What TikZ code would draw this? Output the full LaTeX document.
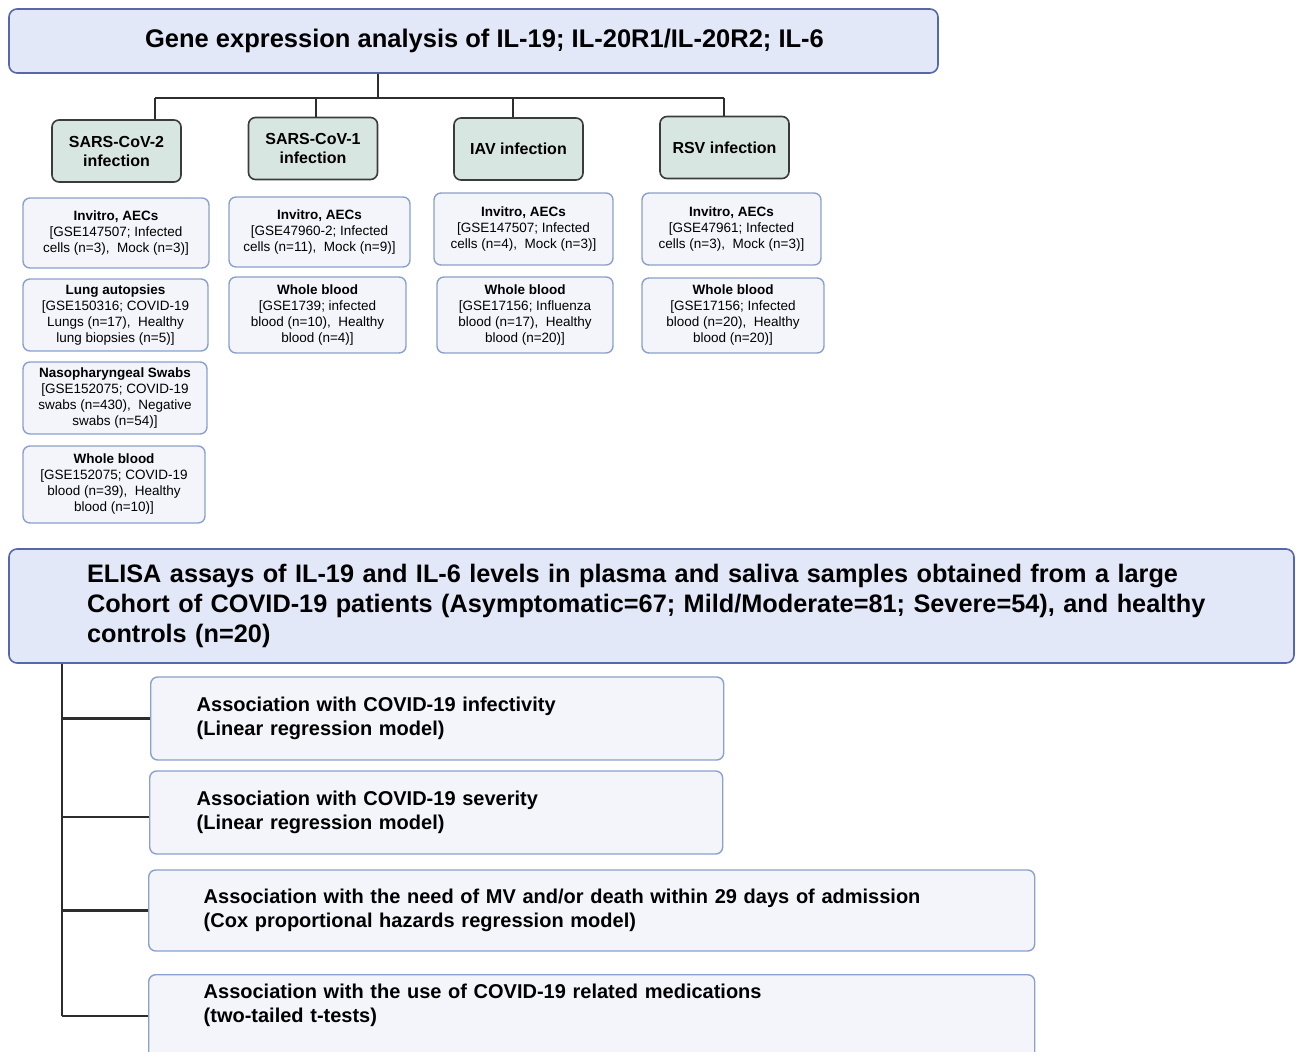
\documentclass[tikz,border=0pt]{standalone}
\usepackage{fontspec}
\setmainfont{Liberation Sans}
\definecolor{topfill}{RGB}{227,232,248}
\definecolor{topline}{RGB}{86,104,170}
\definecolor{hdrfill}{RGB}{216,230,226}
\definecolor{hdrline}{RGB}{58,60,60}
\definecolor{datfill}{RGB}{243,245,251}
\definecolor{datline}{RGB}{140,160,205}
\definecolor{linkcol}{RGB}{45,45,45}
\begin{document}
\begin{tikzpicture}[x=1pt,y=-1pt,
    topbox/.style={draw=topline,fill=topfill,rounded corners=8,line width=1.6,inner sep=0},
    hdrbox/.style={draw=hdrline,fill=hdrfill,rounded corners=7,line width=1.6,inner sep=0,
      align=center,minimum width=129,minimum height=62,font=\fontsize{16}{19}\selectfont\bfseries},
    datbox/.style={draw=datline,fill=datfill,rounded corners=7,line width=1.4,inner sep=0,
      align=center,font=\fontsize{13.5}{16}\selectfont},
    assoc/.style={draw=datline,fill=datfill,rounded corners=7,line width=1.4,inner ysep=0,
      align=left,font=\fontsize{20}{24.5}\selectfont\bfseries},
    link/.style={draw=linkcol,line width=2.6}]
  \useasboundingbox (0,0) rectangle (1296,1052);
  \clip (0,0) rectangle (1296,1052);
  % gene expression part
  \node[topbox,minimum width=929,minimum height=64,font=\fontsize{25.5}{30}\selectfont\bfseries]
    (gene) at (473.5,41) {\hspace*{22pt}Gene expression analysis of IL-19; IL-20R1/IL-20R2; IL-6};
  \node[hdrbox] (sc2) at (116.5,151) {SARS-CoV-2\\infection};
  \node[hdrbox] (sc1) at (313,148.5) {SARS-CoV-1\\infection};
  \node[hdrbox] (iav) at (518.5,149) {IAV infection};
  \node[hdrbox] (rsv) at (724.5,147.5) {RSV infection};
  \coordinate (split) at (378,98);
  \coordinate (j1) at (155,98);
  \coordinate (j2) at (316,98);
  \coordinate (j3) at (513,98);
  \coordinate (j4) at (724,98);
  \begin{scope}[link]
    \draw (split |- gene.south) -- (split);
    \draw (j1) -- (j4);
    \draw (j1) -- (j1 |- sc2.north);
    \draw (j2) -- (j2 |- sc1.north);
    \draw (j3) -- (j3 |- iav.north);
    \draw (j4) -- (j4 |- rsv.north);
  \end{scope}
  % data sets
  \node[datbox,minimum width=186,minimum height=70] (sc2a) at (116,233)
    {\textbf{Invitro, AECs}\\{[GSE147507; Infected}\\cells (n=3),\ \ Mock (n=3)]};
  \node[datbox,minimum width=185,minimum height=72] (sc2b) at (115.5,315)
    {\textbf{Lung autopsies}\\{[GSE150316; COVID-19}\\Lungs (n=17),\ \ Healthy\\lung biopsies (n=5)]};
  \node[datbox,minimum width=184,minimum height=72] (sc2c) at (115,398)
    {\textbf{Nasopharyngeal Swabs}\\{[GSE152075; COVID-19}\\swabs (n=430),\ \ Negative\\swabs (n=54)]};
  \node[datbox,minimum width=182,minimum height=77] (sc2d) at (114,484.5)
    {\textbf{Whole blood}\\{[GSE152075; COVID-19}\\blood (n=39),\ \ Healthy\\blood (n=10)]};
  \node[datbox,minimum width=181,minimum height=70] (sc1a) at (319.5,232)
    {\textbf{Invitro, AECs}\\{[GSE47960-2; Infected}\\cells (n=11),\ \ Mock (n=9)]};
  \node[datbox,minimum width=177,minimum height=76] (sc1b) at (317.5,315)
    {\textbf{Whole blood}\\{[GSE1739; infected}\\blood (n=10),\ \ Healthy\\blood (n=4)]};
  \node[datbox,minimum width=179,minimum height=72] (iava) at (523.5,229)
    {\textbf{Invitro, AECs}\\{[GSE147507; Infected}\\cells (n=4),\ \ Mock (n=3)]};
  \node[datbox,minimum width=176,minimum height=76] (iavb) at (525,315)
    {\textbf{Whole blood}\\{[GSE17156; Influenza}\\blood (n=17),\ \ Healthy\\blood (n=20)]};
  \node[datbox,minimum width=179,minimum height=72] (rsva) at (731.5,229)
    {\textbf{Invitro, AECs}\\{[GSE47961; Infected}\\cells (n=3),\ \ Mock (n=3)]};
  \node[datbox,minimum width=182,minimum height=75] (rsvb) at (733,315.5)
    {\textbf{Whole blood}\\{[GSE17156; Infected}\\blood (n=20),\ \ Healthy\\blood (n=20)]};
  % ELISA part
  \node[topbox,minimum height=114,inner xsep=78,text width=1129,align=left,
    font=\fontsize{25.3}{30}\selectfont\bfseries] (elisa) at (651.5,606)
    {ELISA assays of IL-19 and IL-6 levels in plasma and saliva samples obtained from a large\\
     Cohort of COVID-19 patients (Asymptomatic=67; Mild/Moderate=81; Severe=54), and healthy\\
     controls (n=20)};
  \node[assoc,anchor=west,inner xsep=46,text width=481,minimum height=83] (as1) at (150,718.5)
    {Association with COVID-19 infectivity\\(Linear regression model)};
  \node[assoc,anchor=west,inner xsep=47,text width=479,minimum height=83] (as2) at (149,812.5)
    {Association with COVID-19 severity\\(Linear regression model)};
  \node[assoc,anchor=west,inner xsep=55,text width=776,minimum height=81] (as3) at (148,910.5)
    {Association with the need of MV and/or death within 29 days of admission\\(Cox proportional hazards regression model)};
  \node[assoc,anchor=north west,inner xsep=55,inner ysep=9,text width=776,text depth=70] (as4) at (148,974)
    {Association with the use of COVID-19 related medications\\(two-tailed t-tests)};
  \coordinate (t0) at (62,0);
  \coordinate (trunk) at (t0 |- elisa.south);
  \coordinate (b2) at (62,817);
  \coordinate (b4) at (62,1016);
  \begin{scope}[link]
    \draw (trunk) -- (b4);
    \draw (trunk |- as1.west) -- (as1.west);
    \draw (b2) -- (b2 -| as2.west);
    \draw (trunk |- as3.west) -- (as3.west);
    \draw (b4) -- (b4 -| as4.west);
  \end{scope}
\end{tikzpicture}
\end{document}
